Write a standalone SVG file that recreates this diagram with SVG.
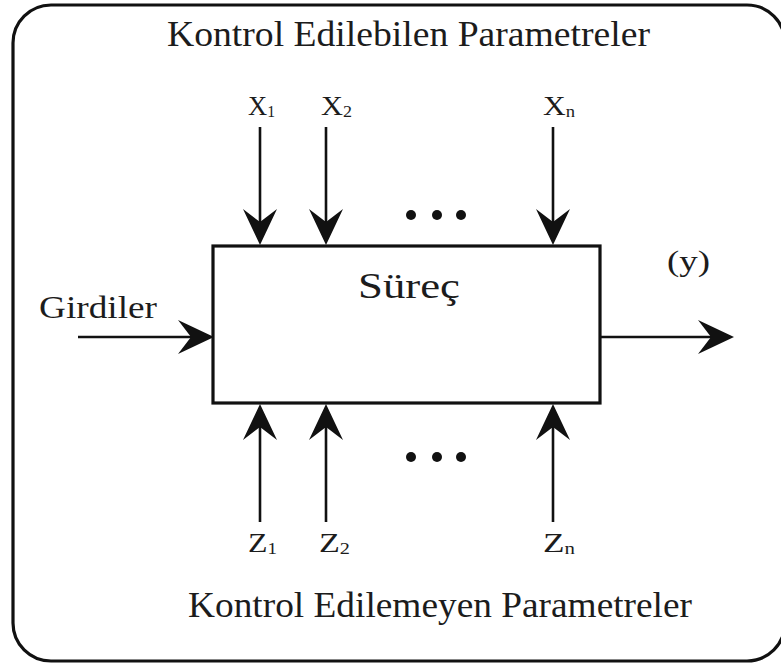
<svg xmlns="http://www.w3.org/2000/svg" width="781" height="666" viewBox="0 0 781 666" font-family="'Liberation Serif', Tinos, 'Times New Roman', Times, serif">
  <style>
    text { font-family: 'Liberation Serif', Tinos, 'Times New Roman', Times, serif; fill: #1c1c1c; }
    .ln { stroke: #111; stroke-width: 2.6; fill: none; }
    .box { stroke: #111; stroke-width: 3.2; fill: #fff; }
    .hd { fill: #111; }
  </style>
  <defs>
    <!-- barbed arrowhead pointing right, tip at origin -->
    <path id="head" d="M0,0 L-36,-17 L-23,0 L-36,17 Z"/>
  </defs>

  <!-- outer frame -->
  <rect x="13" y="5" width="772" height="656" rx="38" ry="38" fill="#fff" stroke="#111" stroke-width="3.2"/>

  <text x="167" y="46" font-size="35" textLength="483" lengthAdjust="spacingAndGlyphs">Kontrol Edilebilen Parametreler</text>
  <text x="188" y="617" font-size="35" textLength="504" lengthAdjust="spacingAndGlyphs">Kontrol Edilemeyen Parametreler</text>

  <g id="process">
    <rect class="box" x="213" y="246" width="387" height="157"/>
    <text x="358" y="298" font-size="35" textLength="102" lengthAdjust="spacingAndGlyphs">Süreç</text>
  </g>

  <g id="inputs">
    <text x="39" y="318" font-size="32" textLength="118" lengthAdjust="spacingAndGlyphs">Girdiler</text>
  </g>

  <g id="output">
    <text x="667" y="271" font-size="30" textLength="43" lengthAdjust="spacingAndGlyphs">(y)</text>
  </g>

  <g id="controlled">
    <text x="248" y="115" font-size="27" textLength="27" lengthAdjust="spacingAndGlyphs">X<tspan font-size="16" dy="2">1</tspan></text>
    <text x="321" y="115" font-size="27" textLength="31" lengthAdjust="spacingAndGlyphs">X<tspan font-size="16" dy="2">2</tspan></text>
    <text x="543" y="115" font-size="27" textLength="32" lengthAdjust="spacingAndGlyphs">X<tspan font-size="16" dy="2">n</tspan></text>
    <circle cx="411" cy="215" r="5" fill="#111"/>
    <circle cx="437" cy="215" r="5" fill="#111"/>
    <circle cx="461" cy="215" r="5" fill="#111"/>
  </g>

  <g id="uncontrolled">
    <text x="248" y="552" font-size="27" textLength="29" lengthAdjust="spacingAndGlyphs">Z<tspan font-size="16" dy="2">1</tspan></text>
    <text x="319" y="552" font-size="27" textLength="31" lengthAdjust="spacingAndGlyphs">Z<tspan font-size="16" dy="2">2</tspan></text>
    <text x="543" y="552" font-size="27" textLength="32" lengthAdjust="spacingAndGlyphs">Z<tspan font-size="16" dy="2">n</tspan></text>
    <circle cx="411" cy="457" r="5" fill="#111"/>
    <circle cx="437" cy="457" r="5" fill="#111"/>
    <circle cx="461" cy="457" r="5" fill="#111"/>
  </g>

  <g id="connectors">
    <!-- input and output flows -->
    <line class="ln" x1="78" y1="337" x2="200" y2="337"/>
    <use href="#head" class="hd" transform="translate(214,337)"/>
    <line class="ln" x1="601" y1="337" x2="715" y2="337"/>
    <use href="#head" class="hd" transform="translate(734,337)"/>

    <!-- controlled parameters, downward -->
    <line class="ln" x1="260" y1="127" x2="260" y2="232"/>
    <use href="#head" class="hd" transform="translate(260,245) rotate(90)"/>
    <line class="ln" x1="326" y1="127" x2="326" y2="232"/>
    <use href="#head" class="hd" transform="translate(326,245) rotate(90)"/>
    <line class="ln" x1="553" y1="127" x2="553" y2="232"/>
    <use href="#head" class="hd" transform="translate(553,245) rotate(90)"/>

    <!-- uncontrolled parameters, upward -->
    <line class="ln" x1="260" y1="522" x2="260" y2="418"/>
    <use href="#head" class="hd" transform="translate(260,404) rotate(-90)"/>
    <line class="ln" x1="326" y1="522" x2="326" y2="418"/>
    <use href="#head" class="hd" transform="translate(326,404) rotate(-90)"/>
    <line class="ln" x1="553" y1="522" x2="553" y2="418"/>
    <use href="#head" class="hd" transform="translate(553,404) rotate(-90)"/>
  </g>
</svg>
